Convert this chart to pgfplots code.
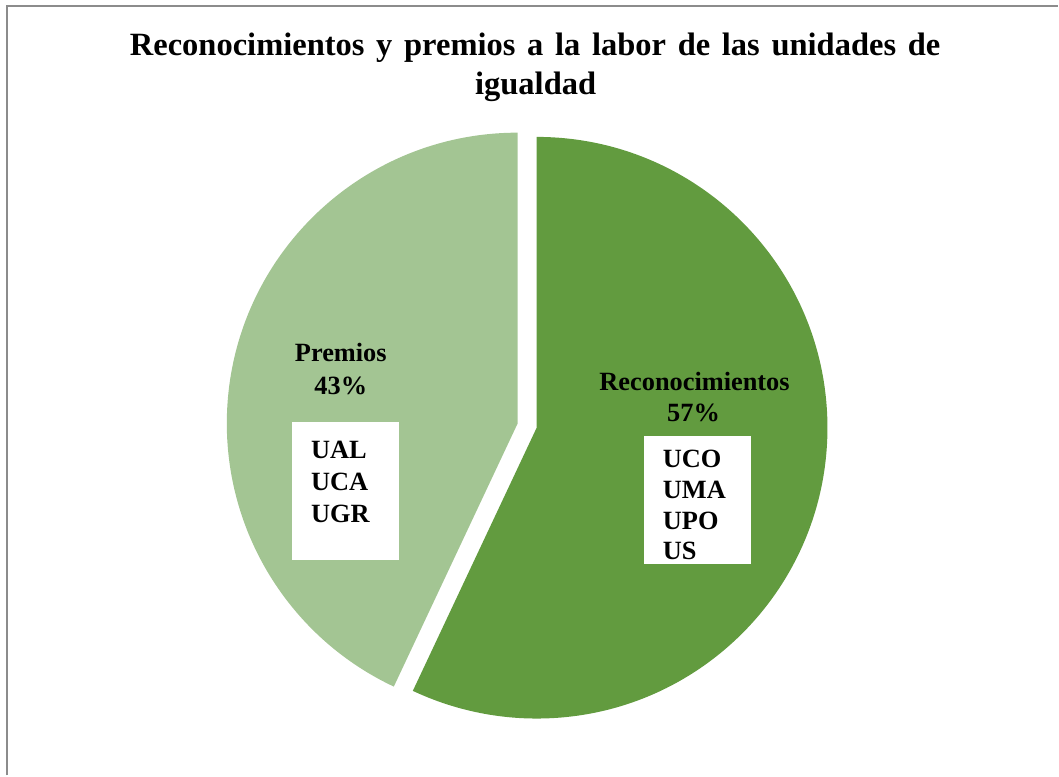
\documentclass[border=0pt]{standalone}
\usepackage{pgfplots}
\pgfplotsset{compat=1.18}
\usepackage{pgfplotstable}
\usetikzlibrary{calc}
\usepackage{fontspec}
\setmainfont{Liberation Serif}

\definecolor{recon}{HTML}{629B3F}
\definecolor{prem}{HTML}{A3C593}
\definecolor{framegray}{HTML}{8C8C8C}

% shares of the two categories (percent)
\pgfplotstableread{
label value
Reconocimientos 57
Premios 43
}\piedata
\pgfplotstablegetelem{0}{value}\of\piedata \let\vrec\pgfplotsretval
\pgfplotstablegetelem{1}{value}\of\piedata \let\vpre\pgfplotsretval

% Excel starts at the top and goes clockwise
\pgfmathsetmacro{\recend}{90-3.6*\vrec}
\pgfmathsetmacro{\preend}{90+3.6*\vpre}
\pgfmathsetmacro{\premid}{90+1.8*\vpre}

\newcommand{\titlefont}{\fontsize{18.5}{22}\selectfont\bfseries}
\newcommand{\labfont}{\fontsize{15}{18}\selectfont\bfseries}

\begin{document}
\begin{tikzpicture}
\begin{axis}[
  hide axis, scale only axis,
  width=21.18cm, height=15.52cm,
  xmin=0, xmax=1059, ymin=0, ymax=776,
  y dir=reverse, clip=false,
]
% frame (only top and left edges are in view)
\draw[framegray, line width=0.8pt] (axis cs:7,776) -- (axis cs:7,6) -- (axis cs:1059,6);

% slices
\fill[recon] (axis cs:537,428) -- ++(90:5.82cm)
  arc[start angle=90, end angle=\recend, radius=5.82cm] -- cycle;
\fill[prem] ($(axis cs:537,428)+(\premid:0.39cm)$) -- ++(90:5.82cm)
  arc[start angle=90, end angle=\preend, radius=5.82cm] -- cycle;

% title
\node[anchor=base, font=\titlefont, inner sep=0pt] at (axis cs:535.5,56)
  {\spaceskip=0.36em Reconocimientos y premios a la labor de las unidades de};
\node[anchor=base, font=\titlefont, inner sep=0pt] at (axis cs:536,95) {igualdad};

% data labels
\node[anchor=base, font=\labfont, inner sep=0pt] at (axis cs:341,362) {Premios};
\node[anchor=base, font=\labfont, inner sep=0pt] at (axis cs:341,395) {43\%};
\node[anchor=base, font=\labfont, inner sep=0pt] at (axis cs:695,391) {Reconocimientos};
\node[anchor=base, font=\labfont, inner sep=0pt] at (axis cs:694,422) {57\%};

% white boxes with the universities
\fill[white] (axis cs:292,422) rectangle (axis cs:399,560);
\node[anchor=base west, font=\labfont, inner sep=0pt] at (axis cs:311,459) {UAL};
\node[anchor=base west, font=\labfont, inner sep=0pt] at (axis cs:311,491) {UCA};
\node[anchor=base west, font=\labfont, inner sep=0pt] at (axis cs:311,523) {UGR};

\fill[white] (axis cs:644,436) rectangle (axis cs:751,564);
\node[anchor=base west, font=\labfont, inner sep=0pt] at (axis cs:663,468) {UCO};
\node[anchor=base west, font=\labfont, inner sep=0pt] at (axis cs:663,499) {UMA};
\node[anchor=base west, font=\labfont, inner sep=0pt] at (axis cs:663,530) {UPO};
\node[anchor=base west, font=\labfont, inner sep=0pt] at (axis cs:663,560) {US};
\end{axis}
\useasboundingbox (current axis.south west) rectangle (current axis.north east);
\end{tikzpicture}
\end{document}
